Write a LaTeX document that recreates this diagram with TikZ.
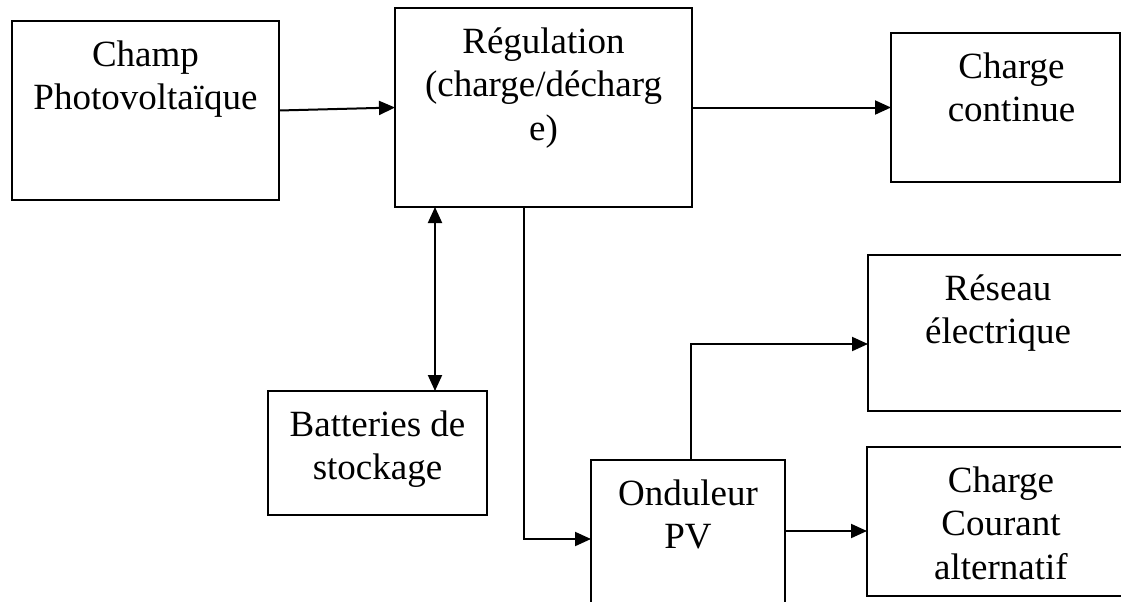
\documentclass[tikz,border=0pt]{standalone}
\usepackage{fontspec}
\setmainfont{Liberation Serif}
\usepackage{tikz}
\usetikzlibrary{arrows.meta, positioning, calc}

\begin{document}
\begin{tikzpicture}[x=0.5pt, y=-0.5pt,
  blk/.style={draw, line width=1pt, inner sep=0pt, outer sep=0pt, anchor=north west},
  txt/.style={align=center, inner sep=0pt, anchor=north, font=\fontsize{18.5}{21.8}\selectfont},
  arr/.style={line width=1pt, -{Triangle[length=8pt, width=7pt]}},
  dblarr/.style={line width=1pt, {Triangle[length=8pt, width=7pt]}-{Triangle[length=8pt, width=7pt]}}]
\useasboundingbox (0,0) rectangle (1121,601);
\clip (0,0) rectangle (1121,601);
% blocks
\node[blk, minimum width=133.5pt, minimum height=89.5pt] (champ) at (12,21) {};
\node[blk, minimum width=148.5pt, minimum height=99.5pt] (regul) at (395,8) {};
\node[blk, minimum width=114.5pt, minimum height=74.5pt] (chcont) at (891,33) {};
\node[blk, minimum width=130pt, minimum height=78pt] (reseau) at (868,255) {};
\node[blk, minimum width=134pt, minimum height=74.5pt] (chalt) at (867,447) {};
\node[blk, minimum width=97pt, minimum height=79pt] (ondul) at (591,460) {};
\node[blk, minimum width=109.5pt, minimum height=62pt] (batt) at (268,391) {};
% texts
\node[txt, below=9.5pt of champ.north] (tchamp) {Champ\\Photovoltaïque};
\node[txt, below=9.5pt of regul.north] (tregul) {Régulation\\(charge/décharg\\e)};
\node[txt, below=9.5pt of chcont.north, xshift=3pt] (tchcont) {Charge\\continue};
\node[txt, below=9.5pt of reseau.north] (treseau) {Réseau\\électrique};
\node[txt, below=9.5pt of chalt.north] (tchalt) {Charge\\Courant\\alternatif};
\node[txt, below=9.5pt of ondul.north] (tondul) {Onduleur\\PV};
\node[txt, below=9.5pt of batt.north] (tbatt) {Batteries de\\stockage};
% connectors
\draw[arr] (champ.east) -- (regul.west);
\draw[arr] (regul.east) -- (chcont.west);
\draw[dblarr] ([xshift=28.75pt]batt.north) -- ([xshift=28.75pt]batt.north |- regul.south);
\draw[arr] ([xshift=-9.75pt]regul.south) |- (ondul.west);
\draw[arr] ([xshift=1.5pt]ondul.north) |- ([yshift=-5.5pt]reseau.west);
\draw[arr] ([yshift=4pt]ondul.east) -- ([yshift=4pt]ondul.east -| chalt.west);
\end{tikzpicture}
\end{document}
